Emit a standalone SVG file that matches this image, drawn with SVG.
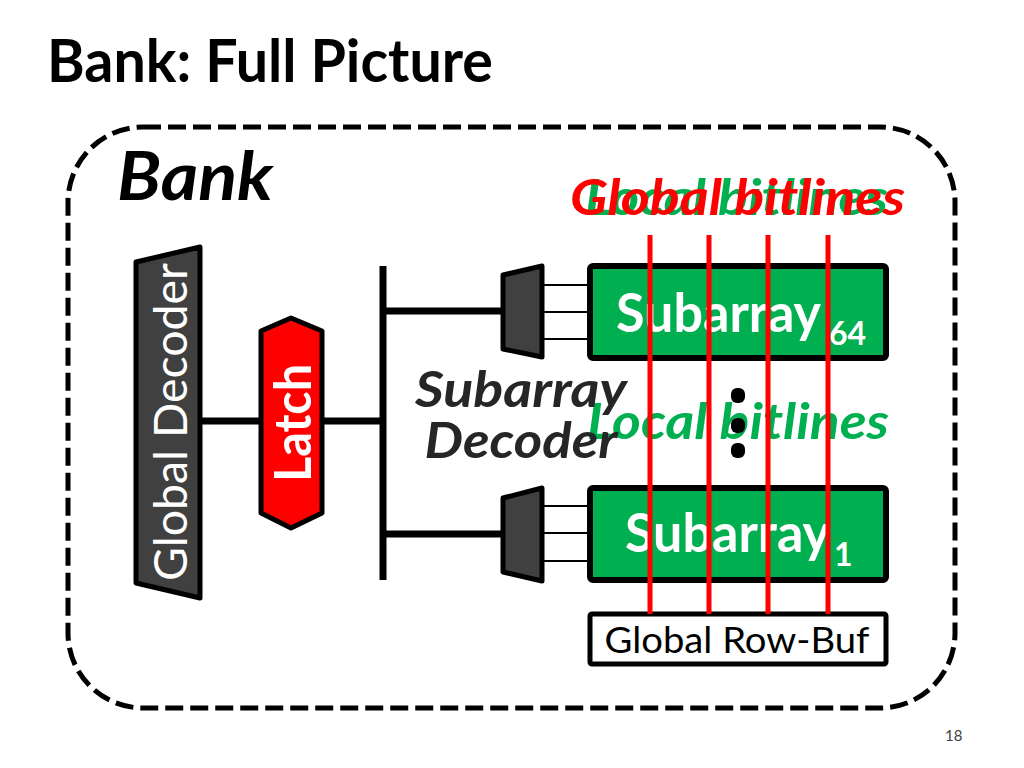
<svg xmlns="http://www.w3.org/2000/svg" width="1024" height="768" viewBox="0 0 1024 768">
<style>
.f{font-family:"Lato","Open Sans","Liberation Sans",sans-serif}
.wire{stroke:#000;stroke-width:7;fill:none}
.thin{stroke:#000;stroke-width:2;fill:none}
.mux{fill:#404040;stroke:#000;stroke-width:5;stroke-linejoin:round}
.sub{fill:#00B050;stroke:#000;stroke-width:6}
.bl{stroke:#FF0000;stroke-width:5}
.bi{font-weight:bold;font-style:italic}
</style>
<rect width="1024" height="768" fill="#fff"/>
<text class="f" x="47" y="82" font-size="60" font-weight="bold" fill="#000" textLength="446" lengthAdjust="spacingAndGlyphs">Bank: Full Picture</text>
<rect x="68" y="127" width="887" height="581" rx="75" ry="75" fill="none" stroke="#000" stroke-width="5" stroke-dasharray="18 7"/>
<text class="f bi" x="117" y="200" font-size="66" fill="#000" textLength="156" lengthAdjust="spacingAndGlyphs">Bank</text>

<g id="bitline-labels">
<text class="f bi" x="585" y="215" font-size="50" fill="#00B050" textLength="303" lengthAdjust="spacingAndGlyphs">Local bitlines</text>
<text class="f bi" x="570" y="215" font-size="50" fill="#FF0000" textLength="335" lengthAdjust="spacingAndGlyphs">Global bitlines</text>
</g>

<g id="connectors">
<line class="wire" x1="200" y1="421" x2="262" y2="421"/>
<line class="wire" x1="320" y1="421" x2="383" y2="421"/>
<line class="wire" x1="383" y1="266" x2="383" y2="580"/>
<line class="wire" x1="383" y1="311" x2="505" y2="311"/>
<line class="wire" x1="383" y1="534" x2="505" y2="534"/>
<line class="thin" x1="543" y1="285" x2="590" y2="285"/>
<line class="thin" x1="543" y1="312" x2="590" y2="312"/>
<line class="thin" x1="543" y1="339" x2="590" y2="339"/>
<line class="thin" x1="543" y1="506" x2="590" y2="506"/>
<line class="thin" x1="543" y1="533" x2="590" y2="533"/>
<line class="thin" x1="543" y1="561" x2="590" y2="561"/>
</g>

<g id="global-decoder">
<polygon points="136,262 200,247 200,598 136,583" fill="#404040" stroke="#000" stroke-width="5" stroke-linejoin="round"/>
<text class="f" transform="translate(187,422) rotate(-90)" x="0" y="0" text-anchor="middle" font-size="46" fill="#fff" textLength="318" lengthAdjust="spacingAndGlyphs">Global Decoder</text>
</g>

<g id="latch">
<polygon points="291,318 322,331 322,513 291,528 261,513 261,331" fill="#FF0000" stroke="#000" stroke-width="5" stroke-linejoin="round"/>
<text class="f" transform="translate(311,423) rotate(-90)" x="0" y="0" text-anchor="middle" font-size="52" font-weight="bold" fill="#fff" textLength="118" lengthAdjust="spacingAndGlyphs">Latch</text>
</g>

<g id="mux-64">
<polygon class="mux" points="503,275 542,266 542,357 503,349"/>
</g>
<g id="mux-1">
<polygon class="mux" points="503,498 542,488 542,581 503,572"/>
</g>

<g id="subarray-64">
<rect class="sub" x="590" y="266" width="296" height="92" rx="3"/>
<text class="f" x="616" y="332" font-size="54" font-weight="bold" fill="#fff" textLength="205" lengthAdjust="spacingAndGlyphs">Subarray</text>
<text class="f" x="829" y="345" font-size="32" font-weight="bold" fill="#fff">64</text>
</g>

<g id="subarray-1">
<rect class="sub" x="590" y="488" width="296" height="92" rx="3"/>
<text class="f" x="625" y="552" font-size="54" font-weight="bold" fill="#fff" textLength="205" lengthAdjust="spacingAndGlyphs">Subarray</text>
<text class="f" x="834" y="566" font-size="32" font-weight="bold" fill="#fff">1</text>
</g>

<g id="global-row-buf">
<rect x="590" y="614" width="296" height="50" fill="#fff" stroke="#000" stroke-width="5" rx="2"/>
<text class="f" x="737" y="653" text-anchor="middle" font-size="36" fill="#000" textLength="265" lengthAdjust="spacingAndGlyphs">Global Row-Buf</text>
</g>

<text class="f bi" x="587" y="439" font-size="50" fill="#00B050" textLength="302" lengthAdjust="spacingAndGlyphs">Local bitlines</text>

<g id="global-bitlines">
<line class="bl" x1="650" y1="235" x2="650" y2="614"/>
<line class="bl" x1="709" y1="235" x2="709" y2="614"/>
<line class="bl" x1="768" y1="235" x2="768" y2="614"/>
<line class="bl" x1="828" y1="235" x2="828" y2="614"/>
</g>

<g id="subarray-decoder">
<text class="f bi" x="521" y="407" text-anchor="middle" font-size="50" fill="#262626" textLength="212" lengthAdjust="spacingAndGlyphs">Subarray</text>
<text class="f bi" x="521" y="458" text-anchor="middle" font-size="50" fill="#262626" textLength="193" lengthAdjust="spacingAndGlyphs">Decoder</text>
</g>

<g id="ellipsis" fill="#000">
<rect x="731" y="388" width="14" height="15" rx="6"/>
<rect x="731" y="418" width="14" height="15" rx="6"/>
<rect x="731" y="443" width="14" height="15" rx="6"/>
</g>

<text class="f" x="945" y="741" font-size="15" fill="#404040">18</text>
</svg>
